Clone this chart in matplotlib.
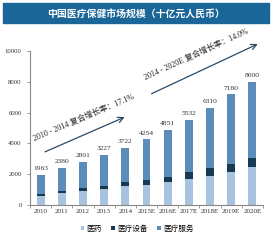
import matplotlib
matplotlib.use("Agg")
import matplotlib.pyplot as plt
from matplotlib.patches import Rectangle

plt.rcParams['font.family'] = ['Liberation Serif', 'Noto Sans CJK SC', 'DejaVu Sans']

# market size, billion RMB
years = ["2010", "2011", "2012", "2013", "2014", "2015E", "2016E",
         "2017E", "2018E", "2019E", "2020E"]
totals = [1963, 2380, 2801, 3227, 3722, 4254, 4851, 5532, 6310, 7180, 8000]
pharma = [580, 780, 930, 1050, 1230, 1320, 1500, 1690, 1900, 2170, 2450]
equipment = [130, 150, 170, 200, 250, 330, 350, 430, 500, 520, 620]
services = [1253, 1450, 1701, 1977, 2242, 2604, 3001, 3412, 3910, 4490, 4930]
series_names = ["医药", "医疗设备", "医疗服务"]

c_light = "#a7c3dd"
c_dark = "#173a53"
c_mid = "#5b8cba"

fig = plt.figure(figsize=(2.71, 2.40), dpi=100)

# title banner
fig.patches.append(Rectangle((3 / 271, 1 - 23 / 240), 266 / 271, 20 / 240,
                             transform=fig.transFigure, color="#1b6698"))
fig.text(0.5, 1 - 13.5 / 240, "中国医疗保健市场规模（十亿元人民币）",
         ha="center", va="center", color="white", fontsize=7.1, weight="bold")

ax = fig.add_axes([30 / 271, 35 / 240, 233 / 271, 154 / 240])
x = list(range(len(years)))
w = 0.37
b1 = ax.bar(x, pharma, w, color=c_light, label=series_names[0])
bottom2 = [p for p in pharma]
b2 = ax.bar(x, equipment, w, bottom=bottom2, color=c_dark, label=series_names[1])
bottom3 = [p + e for p, e in zip(pharma, equipment)]
b3 = ax.bar(x, services, w, bottom=bottom3, color=c_mid, label=series_names[2])

for i, t in enumerate(totals):
    ax.text(i, t + 250, str(t), ha="center", va="bottom", fontsize=5.4, color="#333333")

ax.set_xlim(-0.465, 10.37)
ax.set_ylim(0, 10000)
ax.set_yticks(range(0, 10001, 2000))
ax.set_xticks(x)
ax.set_xticklabels(years)
ax.tick_params(axis="y", labelsize=4.8, length=2, width=0.6, color="#888888",
               labelcolor="#333333", pad=4)
ax.tick_params(axis="x", labelsize=5, length=0, labelcolor="#333333", pad=3)
ax.set_xticks([i + 0.5 for i in range(-1, 11)], minor=True)
ax.tick_params(axis="x", which="minor", length=2, width=0.6, color="#888888")
for s in ["top", "right"]:
    ax.spines[s].set_visible(False)
for s in ["left", "bottom"]:
    ax.spines[s].set_color("#888888")
    ax.spines[s].set_linewidth(0.8)

# growth arrows
ax.annotate("", xy=(4.09, 5780), xytext=(0.09, 3380), annotation_clip=False,
            arrowprops=dict(arrowstyle="->", color="#2a4a66", lw=0.9))
ax.text(-0.25, 4000, "2010 - 2014 复合增长率：17.1%", rotation=23,
        rotation_mode="anchor", ha="left", va="bottom", fontsize=5.8,
        color="#222222", zorder=5)
ax.annotate("", xy=(10.37, 10530), xytext=(5.12, 7150), annotation_clip=False,
            arrowprops=dict(arrowstyle="->", color="#2a4a66", lw=0.9))
ax.text(5.0, 8000, "2014 - 2020E 复合增长率：14.0%", rotation=24.5,
        rotation_mode="anchor", ha="left", va="bottom", fontsize=5.8,
        color="#222222", clip_on=False, zorder=5)

fig.legend(handles=[b1, b2, b3], labels=series_names, loc="center",
           bbox_to_anchor=(137 / 271, 11 / 240), ncol=3, frameon=False,
           fontsize=5.5, handlelength=0.5, handleheight=0.5, handletextpad=0.3,
           columnspacing=1.2)

fig.savefig("out.png", dpi=100)
